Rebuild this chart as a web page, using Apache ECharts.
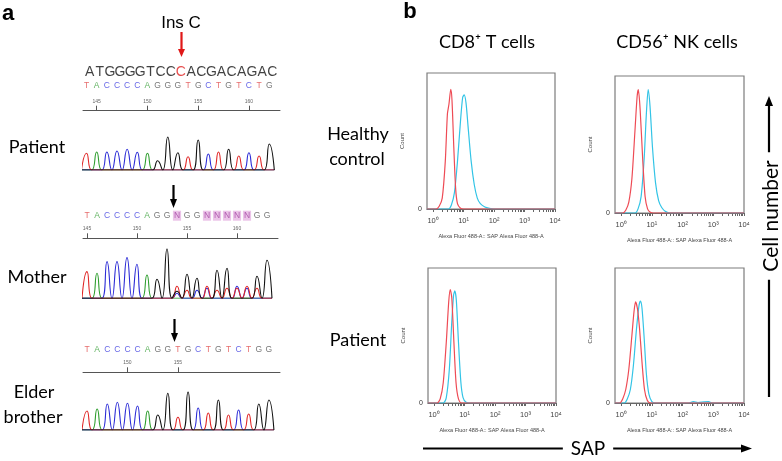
<!DOCTYPE html>
<html><head><meta charset="utf-8">
<script src="https://cdn.jsdelivr.net/npm/echarts@6/dist/echarts.min.js"></script>
<style>html,body{margin:0;padding:0;background:#fff}#c{width:782px;height:461px}</style>
</head><body><div id="c"></div>
<script>
// ================= DATA =================
// Panel a: sequencing
const refTopSeq = 'ATGGGGTCCCACGACAGAC';
const insIndex = 9;                      // the inserted C (red)
const patientSeq = 'TACCCCAGGGTGCTGTCTG';
const patientStart = 144;
const patientTicks = [145, 150, 155, 160];
const patientA = [0,18,0,0,0,0,16.7,0,0,0,0,0,0,0,0,0,0,0,0];
const patientC = [0,0,18,19,20.7,17.7,0,0,0,0,0,0,16,0,0,0,17.3,0,0];
const patientG = [0,0,0,0,0,0,0,9.3,33,17.3,0,30,0,0,20.7,0,0,0,26];
const patientT = [16.7,0,0,0,0,0,0,0,0,0,13.3,0,0,18,0,14,0,14,0];

const motherSeq = 'TACCCCAGGNGGNNNNNGG';
const motherStart = 145;
const motherTicks = [145, 150, 155, 160];
const motherA = [0,25,0,0,0,0,23.3,0,0,0,0,0,0,0,0,0,0,0,0];
const motherC = [0,0,36.7,36.7,40.7,34,0,0,0,5,0,8,10,0,0,12,10,0,0];
const motherG = [0,0,0,0,0,0,0,19,49.3,7,24,20,0,28,30,0,0,22,38];
const motherT = [26.7,0,0,0,0,0,0,0,0,12,8,0,12,8,10,10,12,10,0];

const elderSeq = 'TACCCCAGGTGCTGTCTGG';
const elderStart = 146;
const elderTicks = [150, 155];
const elderA = [0,21,0,0,0,0,19,0,0,0,0,0,0,0,0,0,0,0,0];
const elderC = [0,0,26,27.7,26.7,24,0,0,0,0,0,22,0,0,0,20,0,0,0];
const elderG = [0,0,0,0,0,0,0,15,36.7,0,38,0,0,30,0,0,0,26,30];
const elderT = [19,0,0,0,0,0,0,0,0,12.7,0,0,17,0,15,0,16,0,0];

// Panel b: flow histograms, x = log10(fluorescence), y = % of max count
const decadeTicks = [0, 1, 2, 3, 4];
const cd8HealthyCtrl = [[-0.2,0],[0.1,0],[0.2,2],[0.3,8],[0.4,35],[0.47,70],[0.52,77],[0.58,88],[0.62,80],[0.68,45],[0.74,15],[0.8,4],[0.9,0.5],[1.0,0],[4,0]];
const cd8HealthySap  = [[-0.2,0],[0.5,0],[0.6,3],[0.7,12],[0.8,35],[0.9,65],[0.97,82],[1.02,84],[1.08,78],[1.15,60],[1.25,35],[1.35,18],[1.45,8],[1.55,4],[1.7,1.5],[1.85,0.5],[2.0,0],[4,0]];
const nkHealthyCtrl  = [[-0.2,0],[0.05,0],[0.15,2],[0.25,8],[0.35,25],[0.45,60],[0.52,85],[0.56,90],[0.62,75],[0.7,40],[0.78,12],[0.86,3],[0.95,0.5],[1.05,0],[4,0]];
const nkHealthySap   = [[-0.2,0],[0.45,0],[0.55,3],[0.65,12],[0.75,40],[0.82,72],[0.88,90],[0.94,78],[1.02,48],[1.12,22],[1.22,9],[1.32,4],[1.45,1],[1.6,0],[4,0]];
const cd8PatientCtrl = [[-0.2,0],[0.1,0],[0.2,3],[0.3,15],[0.4,45],[0.48,75],[0.53,84],[0.58,78],[0.65,45],[0.72,15],[0.8,3],[0.9,0],[4,0]];
const cd8PatientSap  = [[-0.2,0],[0.3,0],[0.4,4],[0.5,25],[0.58,60],[0.64,80],[0.68,83],[0.73,76],[0.8,45],[0.88,15],[0.95,4],[1.05,0.5],[1.2,0],[4,0]];
const nkPatientCtrl  = [[-0.2,0],[-0.05,0],[0.05,3],[0.15,10],[0.25,25],[0.35,50],[0.42,68],[0.47,75],[0.53,70],[0.6,55],[0.68,30],[0.76,10],[0.85,2],[0.95,0],[4,0]];
const nkPatientSap   = [[-0.2,0],[0.1,0],[0.2,3],[0.3,10],[0.4,28],[0.5,55],[0.58,72],[0.63,75.5],[0.68,70],[0.75,48],[0.82,22],[0.9,7],[1.0,1],[1.1,0],[2.2,0],[2.35,1],[2.5,0.3],[2.7,0.8],[2.85,1],[2.95,0],[4,0]];

// ================= STYLE / LAYOUT =================
const chromColors = {A:'#2e9e2e', C:'#2b2bd6', G:'#111111', T:'#e02626'};
const letterColors = {A:'#3aa03a', C:'#4040e0', G:'#555555', T:'#e04848', N:'#a040a0'};
const ctrlColor = '#ee4b55', sapColor = '#33c4e6';
const sup = ['\u2070','\u00b9','\u00b2','\u00b3','\u2074'];
const arial = '"Liberation Sans", Arial, sans-serif';
const calib = 'Lato, "Open Sans", sans-serif';

const grids = [], xAxes = [], yAxes = [], series = [];

function addGrid(g, xa, ya) {
  grids.push(g); const i = grids.length - 1;
  xa.gridIndex = i; ya.gridIndex = i; xAxes.push(xa); yAxes.push(ya); return i;
}

function letterItems(seq, start, row, big) {
  return seq.split('').map((ch, i) => {
    const item = {value: [start + i, row]};
    if (big) {
      item.label = {color: i === insIndex ? '#e02020' : '#111'};
    } else if (ch === 'N') {
      item.label = {color: letterColors.N, backgroundColor: '#e6b4e2', padding: [1, 1, 0, 1]};
    } else {
      item.label = {color: letterColors[ch]};
    }
    item.ch = ch;
    return item;
  });
}

function traceData(h, start) {
  const d = [];
  h.forEach((v, i) => { const x = start + i; d.push([x - 0.5, 0], [x, v]); });
  d.push([start + h.length - 0.5, 0]);
  return d;
}

function seqBlock(cfg) {
  const H = cfg.H;
  const gi = addGrid({left: cfg.left, top: cfg.axisY - H, width: cfg.width, height: H},
    {type: 'value', min: cfg.min, max: cfg.max,
     axisLine: {show: true, onZero: false, lineStyle: {color: '#555', width: 1}},
     axisTick: {show: true, inside: true, length: 5, customValues: cfg.ticks, lineStyle: {color: '#555'}},
     axisLabel: {show: true, inside: true, customValues: cfg.ticks, fontSize: 5, color: '#666', margin: 7, fontFamily: arial},
     splitLine: {show: false}},
    {type: 'value', min: 0, max: H, show: false});
  const seqSeries = (seq, start, row, big, off) => ({
    type: 'scatter', xAxisIndex: gi, yAxisIndex: gi, symbolSize: 0, silent: true, clip: false,
    data: letterItems(seq, start, row, big),
    label: {show: true, position: 'inside', offset: [off || 0, 0],
      formatter: p => p.data.ch, fontSize: big ? 14 : 8.5, fontFamily: arial}
  });
  series.push(seqSeries(cfg.seq, cfg.start, cfg.row, false));
  if (cfg.top) series.push(seqSeries(cfg.top, cfg.start, cfg.topRow, true, 3));
  const ti = addGrid({left: cfg.left, top: cfg.baseY - cfg.tH, width: cfg.width, height: cfg.tH},
    {type: 'value', min: cfg.min, max: cfg.max, show: false},
    {type: 'value', min: 0, max: cfg.tH, show: false});
  [['A', cfg.A], ['C', cfg.C], ['T', cfg.T], ['G', cfg.G]].forEach(([b, h]) => {
    series.push({type: 'line', xAxisIndex: ti, yAxisIndex: ti, data: traceData(h, cfg.start),
      showSymbol: false, smooth: 0.55, silent: true,
      lineStyle: {color: chromColors[b], width: 1.1}});
  });
}

seqBlock({left: 83, width: 197, min: 143.65, max: 163.06, axisY: 110.7, H: 52,
  seq: patientSeq, start: patientStart, row: 25, top: refTopSeq, topRow: 39, ticks: patientTicks,
  baseY: 170, tH: 42, A: patientA, C: patientC, G: patientG, T: patientT});
seqBlock({left: 83, width: 195, min: 144.6, max: 164.1, axisY: 238.3, H: 30,
  seq: motherSeq, start: motherStart, row: 22.6, ticks: motherTicks,
  baseY: 298.3, tH: 52, A: motherA, C: motherC, G: motherG, T: motherT});
seqBlock({left: 83, width: 197, min: 145.6, max: 165.1, axisY: 372.3, H: 30,
  seq: elderSeq, start: elderStart, row: 22.3, ticks: elderTicks,
  baseY: 430, tH: 44, A: elderA, C: elderC, G: elderG, T: elderT});

// ---------- flow histograms ----------
const minorTicks = [];
for (let n = 0; n < 4; n++) for (let k = 1; k <= 9; k++) minorTicks.push(n + Math.log10(k));
minorTicks.push(4);

function hist(box, ctrl, sap) {
  const gi = addGrid({left: box[0], top: box[1], width: box[2], height: box[3], show: true,
      borderColor: '#7c7c7c', borderWidth: 1.2, backgroundColor: 'rgba(0,0,0,0)'},
    {type: 'value', min: -0.2, max: 4,
     axisLine: {show: true, onZero: false, lineStyle: {color: '#666', width: 1}},
     axisTick: {show: true, length: 3, customValues: minorTicks, lineStyle: {color: '#666'}},
     axisLabel: {show: true, customValues: decadeTicks, formatter: v => '10' + sup[Math.round(v)],
       fontSize: 7.5, color: '#444', margin: 8, fontFamily: arial},
     splitLine: {show: false},
     name: 'Alexa Fluor 488-A:: SAP Alexa Fluor 488-A', nameLocation: 'middle', nameGap: 24,
     nameTextStyle: {fontSize: 5.5, color: '#444', fontFamily: arial}},
    {type: 'value', min: 0, max: 100,
     axisLine: {show: false},
     axisTick: {show: true, length: 3, customValues: [0], lineStyle: {color: '#666'}},
     axisLabel: {show: true, customValues: [0], formatter: () => '0', fontSize: 7, color: '#333', margin: 5, fontFamily: arial},
     splitLine: {show: false},
     name: 'Count', nameLocation: 'middle', nameGap: 22,
     nameTextStyle: {fontSize: 6, color: '#444', fontFamily: arial}});
  [[sap, sapColor], [ctrl, ctrlColor]].forEach(([d, c]) => series.push({
    type: 'line', xAxisIndex: gi, yAxisIndex: gi, data: d, showSymbol: false, smooth: 0.25,
    silent: true, lineStyle: {color: c, width: 1.2}}));
}
hist([427, 73, 128, 136], cd8HealthyCtrl, cd8HealthySap);
hist([615, 76, 129, 137], nkHealthyCtrl, nkHealthySap);
hist([428, 268, 128, 135], cd8PatientCtrl, cd8PatientSap);
hist([615, 268, 129, 135], nkPatientCtrl, nkPatientSap);

// ---------- annotations ----------
const T = (text, x, y, font, opts) => Object.assign({type: 'text', x: x, y: y, silent: true,
  style: Object.assign({text: text, font: font, fill: '#000', align: 'center', verticalAlign: 'middle'}, (opts && opts.style) || {})},
  opts && opts.rotation !== undefined ? {rotation: opts.rotation} : {});
const L = (x1, y1, x2, y2, c, w) => ({type: 'line', silent: true, shape: {x1, y1, x2, y2}, style: {stroke: c, lineWidth: w}});
const P = (pts, c) => ({type: 'polygon', silent: true, shape: {points: pts}, style: {fill: c}});

const graphic = [
  T('a', 8, 14, 'bold 22px ' + arial),
  T('b', 410, 12, 'bold 22px ' + arial),
  T('Ins C', 181, 23, '17px ' + arial),
  L(181.5, 32, 181.5, 50, '#e01818', 2.2), P([[178, 49], [185, 49], [181.5, 57]], '#e01818'),
  L(173.5, 185, 173.5, 200, '#000', 2.2), P([[170, 199], [177, 199], [173.5, 208]], '#000'),
  L(174.5, 319, 174.5, 334, '#000', 2.2), P([[171, 333], [178, 333], [174.5, 342]], '#000'),
  T('Patient', 37, 147, '18px ' + calib),
  T('Mother', 37, 277, '18px ' + calib),
  T('Elder', 34, 392, '18px ' + calib),
  T('brother', 33, 417, '18px ' + calib),
  T('CD8\u207a T cells', 487, 42, '18px ' + calib),
  T('CD56\u207a NK cells', 677, 42, '18px ' + calib),
  T('Healthy', 358, 134, '18px ' + calib),
  T('control', 357, 159, '18px ' + calib),
  T('Patient', 358, 340, '18px ' + calib),
  // SAP arrow
  L(423, 448.5, 745, 448.5, '#000', 2.2), P([[741, 444.5], [741, 452.5], [752, 448.5]], '#000'),
  T('SAP', 588, 449, '19px ' + calib, {style: {backgroundColor: '#fff', padding: [0, 8, 0, 8]}}),
  // Cell number arrow
  L(769, 397, 769, 104, '#000', 2.2), P([[765, 106], [773, 106], [769, 96]], '#000'),
  T('Cell number', 771, 216, '21px ' + calib, {rotation: Math.PI / 2, style: {backgroundColor: '#fff', padding: [0, 8, 0, 8]}})
];

const chart = echarts.init(document.getElementById('c'), null, {renderer: 'canvas'});
chart.setOption({
  animation: false,
  backgroundColor: '#fff',
  grid: grids, xAxis: xAxes, yAxis: yAxes, series: series, graphic: graphic
});
</script></body></html>
